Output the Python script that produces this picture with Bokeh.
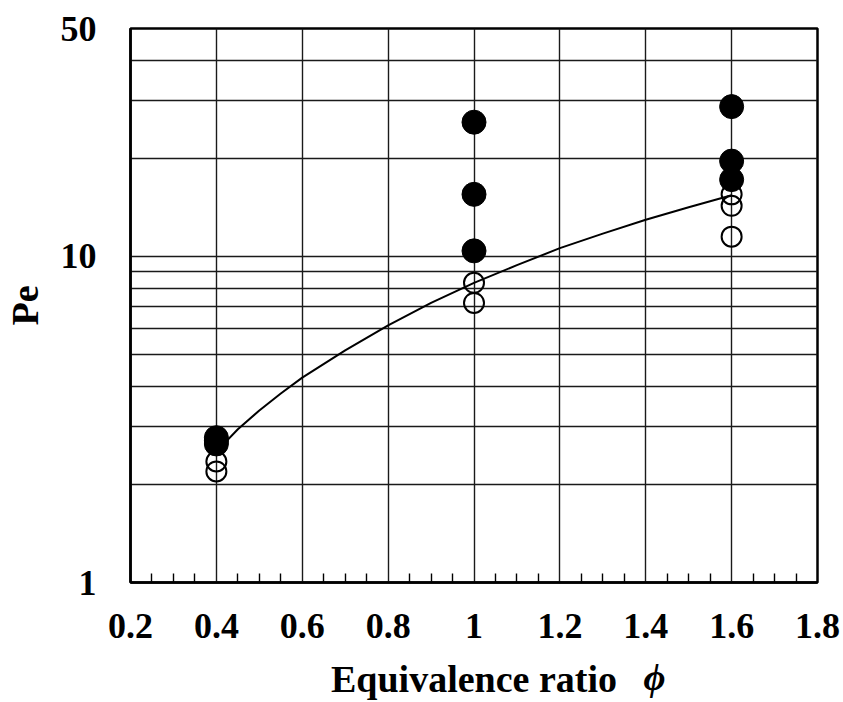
from bokeh.plotting import figure
from bokeh.models import Range1d, FixedTicker, LinearAxis
from bokeh.embed import file_html
from bokeh.resources import INLINE

# ---- data ----
filled_x = [0.4, 0.4, 0.4, 1.0, 1.0, 1.0, 1.6, 1.6, 1.6]
filled_y = [2.78, 2.72, 2.66, 25.8, 15.5, 10.4, 28.8, 19.6, 17.2]

open_x = [0.4, 0.4, 1.0, 1.0, 1.6, 1.6, 1.6]
open_y = [2.35, 2.19, 8.3, 7.2, 15.5, 14.3, 11.5]

curve_x = [0.4, 0.45, 0.5, 0.55, 0.6, 0.7, 0.8, 0.9, 1.0, 1.1, 1.2, 1.3, 1.4, 1.5, 1.6]
curve_y = [2.52, 2.95, 3.37, 3.8, 4.25, 5.15, 6.15, 7.2, 8.3, 9.4, 10.6, 11.75, 12.95, 14.15, 15.4]

x_ticks = [0.2, 0.4, 0.6, 0.8, 1.0, 1.2, 1.4, 1.6, 1.8]
x_tick_labels = ["0.2", "0.4", "0.6", "0.8", "1", "1.2", "1.4", "1.6", "1.8"]
x_minor = [0.25, 0.3, 0.35, 0.45, 0.5, 0.55, 0.65, 0.7, 0.75, 0.85, 0.9, 0.95,
           1.05, 1.1, 1.15, 1.25, 1.3, 1.35, 1.45, 1.5, 1.55, 1.65, 1.7, 1.75]
y_ticks = [1, 10, 50]
y_tick_labels = ["1", "10", "50"]
y_grid = [1, 2, 3, 4, 5, 6, 7, 8, 9, 10, 20, 30, 40, 50]

x_title = "Equivalence ratio"
x_symbol = "\u03d5"
y_title = "Pe"

FONT = "Liberation Serif"

p = figure(width=843, height=702, y_axis_type="log",
           x_range=Range1d(0.2, 1.8), y_range=Range1d(1, 50),
           output_backend="svg", toolbar_location=None,
           min_border_left=126, min_border_right=26,
           min_border_top=28, min_border_bottom=119)

p.background_fill_color = "white"
p.border_fill_color = "white"
p.outline_line_color = "black"
p.outline_line_width = 2.5

# grids
p.xgrid.ticker = FixedTicker(ticks=x_ticks)
p.ygrid.ticker = FixedTicker(ticks=y_grid)
for g in (p.xgrid[0], p.ygrid[0]):
    g.grid_line_color = "#1a1a1a"
    g.grid_line_width = 1.4
    g.grid_line_alpha = 1.0

# x axis
xa = p.xaxis[0]
xa.ticker = FixedTicker(ticks=x_ticks, minor_ticks=x_minor)
xa.major_label_overrides = {t: l for t, l in zip(x_ticks, x_tick_labels)}
xa.major_tick_in = 0
xa.major_tick_out = 0
xa.minor_tick_in = 9
xa.minor_tick_out = 0
xa.minor_tick_line_color = "black"
xa.minor_tick_line_width = 1.4
xa.axis_line_color = "black"
xa.axis_line_width = 2.5
xa.major_label_text_font = FONT
xa.major_label_text_font_style = "bold"
xa.major_label_text_font_size = "36px"
xa.major_label_text_color = "black"
xa.major_label_standoff = 31
xa.axis_label = x_title
xa.axis_label_text_font = FONT
xa.axis_label_text_font_style = "bold"
xa.axis_label_text_font_size = "38px"
xa.axis_label_text_color = "black"
xa.axis_label_standoff = 17

# second, empty axis carrying the italic phi on the same line as the title
pad = "\u00a0" * 38
xa2 = LinearAxis(ticker=FixedTicker(ticks=[], minor_ticks=[]),
                 axis_line_color=None, major_tick_in=0, major_tick_out=0,
                 minor_tick_in=0, minor_tick_out=0,
                 major_tick_line_color=None, minor_tick_line_color=None,
                 major_label_standoff=0,
                 axis_label=pad + x_symbol,
                 axis_label_text_font=FONT,
                 axis_label_text_font_style="bold italic",
                 axis_label_text_font_size="38px",
                 axis_label_text_color="black",
                 axis_label_standoff=-47)
p.add_layout(xa2, "below")

# y axis
ya = p.yaxis[0]
ya.ticker = FixedTicker(ticks=y_ticks, minor_ticks=[])
ya.major_label_overrides = {t: l for t, l in zip(y_ticks, y_tick_labels)}
ya.major_tick_line_color = None
ya.minor_tick_line_color = None
ya.axis_line_color = "black"
ya.axis_line_width = 2.5
ya.major_label_text_font = FONT
ya.major_label_text_font_style = "bold"
ya.major_label_text_font_size = "36px"
ya.major_label_text_color = "black"
ya.major_label_standoff = 28
ya.axis_label = y_title
ya.axis_label_text_font = FONT
ya.axis_label_text_font_style = "bold"
ya.axis_label_text_font_size = "38px"
ya.axis_label_text_color = "black"
ya.axis_label_standoff = 12

# data
p.line(curve_x, curve_y, line_color="black", line_width=2)
p.scatter(open_x, open_y, size=20, marker="circle", fill_color=None,
          line_color="black", line_width=2)
p.scatter(filled_x, filled_y, size=24, marker="circle", fill_color="black",
          line_color="black", line_width=1)

open("out.html", "w").write(file_html(p, INLINE))
